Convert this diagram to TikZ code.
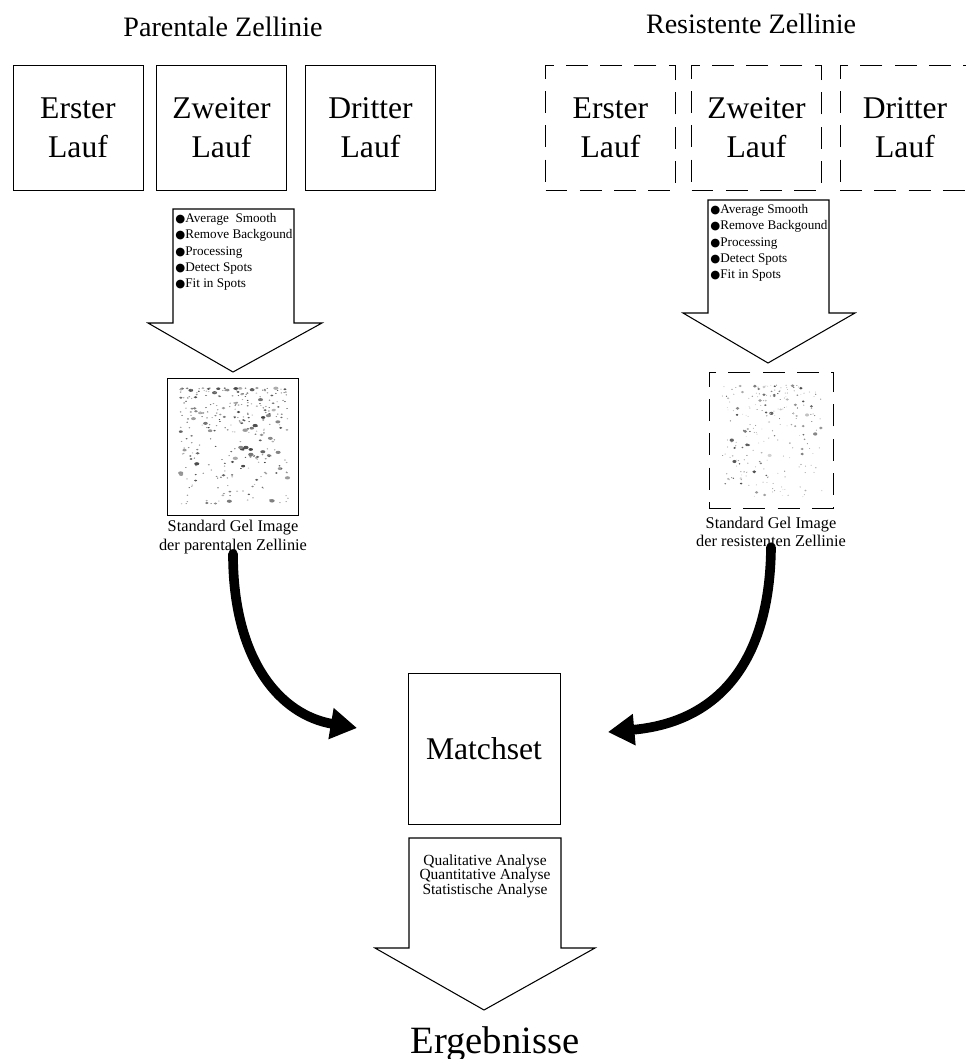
\documentclass[tikz,border=0pt]{standalone}
\usepackage{fontspec}
\setmainfont{Liberation Serif}
\newfontfamily\symfont{DejaVu Sans}
\usetikzlibrary{arrows.meta,calc}
\definecolor{gelgray}{RGB}{40,40,40}
\newcommand{\stepdot}{{\symfont\fontsize{6.5}{6}\selectfont ●}}

\begin{document}
\begin{tikzpicture}[x=0.02cm,y=-0.02cm,
    every node/.style={font=\fontsize{18}{22}\selectfont},
    lauf/.style={draw,line width=0.5pt,minimum width=2.6cm,minimum height=2.5cm,align=center},
    resist/.style={lauf,dash pattern=on 12.5pt off 7pt},
    blockarrow/.style={draw,line width=0.6pt,fill=white},
    steps/.style={anchor=north west,align=left,inner sep=0pt,font=\fontsize{7.5}{9.3}\selectfont},
    gelcap/.style={align=center,inner sep=0pt,font=\fontsize{9.3}{10.4}\selectfont},
    curvearrow/.style={line width=5.5pt,line cap=round,-{Triangle[length=15pt,width=17pt]}}]
      \useasboundingbox (0,0) rectangle (966,1059);
      \clip (0,0) rectangle (966,1059);
      % Parentale Zellinie
      \node[font=\fontsize{16}{19}\selectfont] (ptitle) at (223,27) {Parentale Zellinie};
      \node[lauf] (p1) at (78,127.5)    {Erster\\Lauf};
      \node[lauf] (p2) at (221.5,127.5) {Zweiter\\Lauf};
      \node[lauf] (p3) at (370.5,127.5) {Dritter\\Lauf};
      % Resistente Zellinie
      \node[font=\fontsize{16}{19}\selectfont] (rtitle) at (751,24) {Resistente Zellinie};
      \node[resist] (r1) at (610.5,127.5) {Erster\\Lauf};
      \node[resist] (r2) at (756.5,127.5) {Zweiter\\Lauf};
      \node[resist] (r3) at (905,127.5)   {Dritter\\Lauf};
      % Processing arrows
      \draw[blockarrow] (173,209) -- (294,209) -- (294,323) -- (322,323) -- (233,372)
                        -- (148,323) -- (173,323) -- cycle;
      \node[steps] (psteps) at (175,213) {\stepdot Average\ \ Smooth\\\stepdot Remove Backgound\\
            \stepdot Processing\\\stepdot Detect Spots\\\stepdot Fit in Spots};
      \draw[blockarrow] (708,200) -- (829,200) -- (829,313) -- (855,313) -- (768,363)
                        -- (683,313) -- (708,313) -- cycle;
      \node[steps] (rsteps) at (710,204) {\stepdot Average Smooth\\\stepdot Remove Backgound\\
            \stepdot Processing\\\stepdot Detect Spots\\\stepdot Fit in Spots};
      % Gel images
      \node[draw,line width=0.5pt,minimum width=2.62cm,minimum height=2.74cm] (pgel) at (232.5,446.5) {};
      \pgfmathsetseed{42}
      \foreach \k in {1,...,320}{
        \pgfmathsetmacro\sx{180+108*rnd}
        \pgfmathsetmacro\sy{388+116*(rnd)^1.6}
        \pgfmathsetmacro\sr{0.5+1.2*(rnd)^4}
        \pgfmathtruncatemacro\sg{35+55*rnd}
        \fill[gelgray!\sg] (\sx,\sy) ellipse ({1.6*\sr} and {\sr});
      }
      \node[resist,minimum width=2.48cm,minimum height=2.72cm] (rgel) at (771,440) {};
      \pgfmathsetseed{7}
      \foreach \k in {1,...,230}{
        \pgfmathsetmacro\sx{722+100*rnd}
        \pgfmathsetmacro\sy{385+112*(rnd)^1.4}
        \pgfmathsetmacro\sr{0.4+1.3*(rnd)^4}
        \pgfmathtruncatemacro\sg{20+65*rnd}
        \fill[gelgray!\sg] (\sx,\sy) ellipse ({1.3*\sr} and {\sr});
      }
      \node[gelcap] (pcap) at (233,537) {Standard Gel Image\\der parentalen Zellinie};
      \node[gelcap] (rcap) at (771,532) {Standard Gel Image\\der resistenten Zellinie};
      % Matchset
      \node[lauf,minimum width=3.04cm,minimum height=3.02cm] (match) at (484,748.5) {Matchset};
      \coordinate (pin) at (357,728);
      \coordinate (rin) at (608,732);
      \draw[curvearrow] (pcap.south) .. controls (233,660) and (280,715) .. (pin);
      \draw[curvearrow] (rcap.south) .. controls (770,660) and (720,722) .. (rin);
      % Analysis
      \draw[blockarrow] (409,838) -- (561,838) -- (561,948) -- (595,948) -- (484,1010)
                        -- (375,948) -- (409,948) -- cycle;
      \node[align=center,font=\fontsize{8.8}{8.2}\selectfont] (analyse) at (485,876)
            {Qualitative Analyse\\Quantitative Analyse\\Statistische Analyse};
      \node[anchor=base,font=\fontsize{22}{26}\selectfont] (erg) at (495,1053) {Ergebnisse};
    \end{tikzpicture}
\end{document}
